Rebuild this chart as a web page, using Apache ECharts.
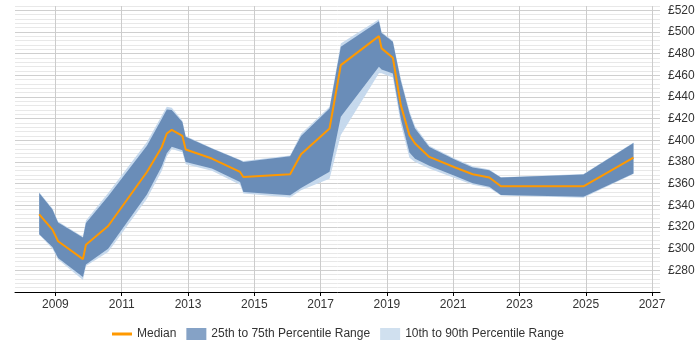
<!DOCTYPE html>
<html>
<head>
<meta charset="utf-8">
<script src="https://cdn.jsdelivr.net/npm/echarts@6/dist/echarts.min.js"></script>
<style>html,body{margin:0;padding:0;background:#fff}#c{width:700px;height:350px}</style>
</head>
<body>
<div id="c"></div>
<script>
const years = [2008.51, 2008.91, 2009.08, 2009.83, 2009.92, 2010.59, 2011.76, 2012.21, 2012.36, 2012.51, 2012.83, 2012.93, 2013.72, 2014.57, 2014.67, 2016.08, 2016.41, 2017.27, 2017.61, 2018.76, 2018.84, 2019.18, 2019.42, 2019.68, 2019.85, 2020.28, 2021.06, 2021.59, 2022.09, 2022.44, 2024.93, 2026.44];
const median = [331.7, 317.6, 306.8, 290.4, 303.7, 320.9, 370.8, 393.9, 406.3, 409.7, 404.1, 391.5, 383.2, 370.8, 366.2, 368.7, 387.2, 410.9, 469.4, 496.2, 484.9, 476.2, 432.5, 404.8, 397.1, 384.7, 374.9, 368.7, 365.7, 357.6, 357.6, 384.1];
const p25 = [313.3, 301.5, 291.3, 273.8, 285.3, 300, 350, 376, 388, 394, 390.9, 380.1, 374, 361.6, 352.4, 349.3, 356, 371, 421.7, 467.9, 465.5, 461.8, 420, 388.8, 383, 376.6, 367, 360.3, 357.2, 349.6, 348, 369.4];
const p75 = [351.4, 336.1, 324.1, 310.2, 323.7, 348.4, 395, 420, 428.5, 428, 417, 403.2, 392.5, 381.6, 380.1, 385.4, 404, 429.4, 486.4, 510, 499, 491, 455, 425, 411, 393.9, 382, 375, 372.4, 365.7, 368.4, 397.6];
const p10 = [313, 300, 290, 271, 284, 297, 346, 372, 385, 392, 389, 378, 372, 359, 351, 347.2, 354, 364.5, 405, 462, 462, 458, 415, 384, 380, 374, 365, 359, 356, 349, 347, 369];
const p90 = [352, 337, 325, 311, 326, 351.5, 398.5, 423, 431, 430, 418, 404, 393, 382, 381, 386, 406, 431, 489.5, 511.7, 500, 492, 457, 427, 413, 395, 383, 376, 373, 366, 369, 398];
const xTickYears = [2009, 2011, 2013, 2015, 2017, 2019, 2021, 2023, 2025, 2027];
const yLabelStep = 20;

const pair = (arr) => years.map((y, i) => [y, arr[i]]);

const DARK = '#6a8db8';
const LIGHT = '#c6d9ed';
const ORANGE = '#ff9900';
const font = 'Liberation Sans, Arial, sans-serif';

function bandSeries(name, lo, hi, color, z) {
  return {
    name: name,
    type: 'custom',
    z: z,
    silent: true,
    data: pair(hi).concat(pair(lo)),
    encode: {x: 0, y: 1},
    renderItem: function (params, api) {
      if (params.dataIndex !== 0) return null;
      const top = years.map((y, i) => api.coord([y, hi[i]]));
      const bottom = years.map((y, i) => api.coord([y, lo[i]])).reverse();
      return {
        type: 'polygon',
        shape: {points: top.concat(bottom)},
        style: {fill: color, stroke: null}
      };
    }
  };
}

const chart = echarts.init(document.getElementById('c'), null, {renderer: 'canvas'});
chart.setOption({
  animation: false,
  backgroundColor: '#fff',
  grid: {left: 15, right: 40, top: 6, bottom: 58, containLabel: false},
  xAxis: {
    type: 'value',
    min: 2007.78,
    max: 2027.24,
    axisLine: {show: true, onZero: false, lineStyle: {color: '#000', width: 1}},
    axisTick: {show: true, length: 4, customValues: xTickYears, lineStyle: {color: '#000'}},
    axisLabel: {show: true, customValues: xTickYears, color: '#333', fontSize: 12, fontFamily: font, margin: 7,
      formatter: (v) => String(Math.round(v))},
    splitLine: {show: false}
  },
  yAxis: {
    type: 'value',
    position: 'right',
    min: 260,
    max: 524,
    interval: 4,
    axisLine: {show: false},
    axisTick: {show: false},
    axisLabel: {show: true, interval: 0, color: '#333', fontSize: 12, fontFamily: font, margin: 8,
      formatter: (v) => (v % yLabelStep === 0 && v >= 280 && v <= 520) ? '£' + v : ''},
    splitLine: {show: true, lineStyle: {width: 1, color: ['#cfcfcf', '#e8e8e8', '#e8e8e8', '#e8e8e8', '#e8e8e8']}}
  },
  legend: {
    show: true,
    left: 112,
    top: 328,
    padding: 0,
    itemWidth: 20,
    itemHeight: 12,
    itemGap: 10,
    textStyle: {color: '#333', fontSize: 12, fontFamily: font},
    data: [
      {name: 'Median', icon: 'path://M0,4.5L20,4.5L20,7.5L0,7.5Z', itemStyle: {color: ORANGE}},
      {name: '25th to 75th Percentile Range', icon: 'rect', itemStyle: {color: '#85a2c6'}},
      {name: '10th to 90th Percentile Range', icon: 'rect', itemStyle: {color: '#d0e0ef'}}
    ]
  },
  series: [
    bandSeries('10th to 90th Percentile Range', p10, p90, LIGHT, 2),
    bandSeries('25th to 75th Percentile Range', p25, p75, DARK, 3),
    {
      name: 'Median', type: 'line', data: pair(median),
      symbol: 'none', lineStyle: {color: ORANGE, width: 2}, itemStyle: {color: ORANGE}, z: 4,
      markLine: {
        silent: true, symbol: 'none', z: 1, animation: false,
        label: {show: false},
        lineStyle: {color: '#cccccc', width: 1, type: 'solid'},
        data: xTickYears.map(y => ({xAxis: y}))
      }
    }
  ]
});
</script>
</body>
</html>
